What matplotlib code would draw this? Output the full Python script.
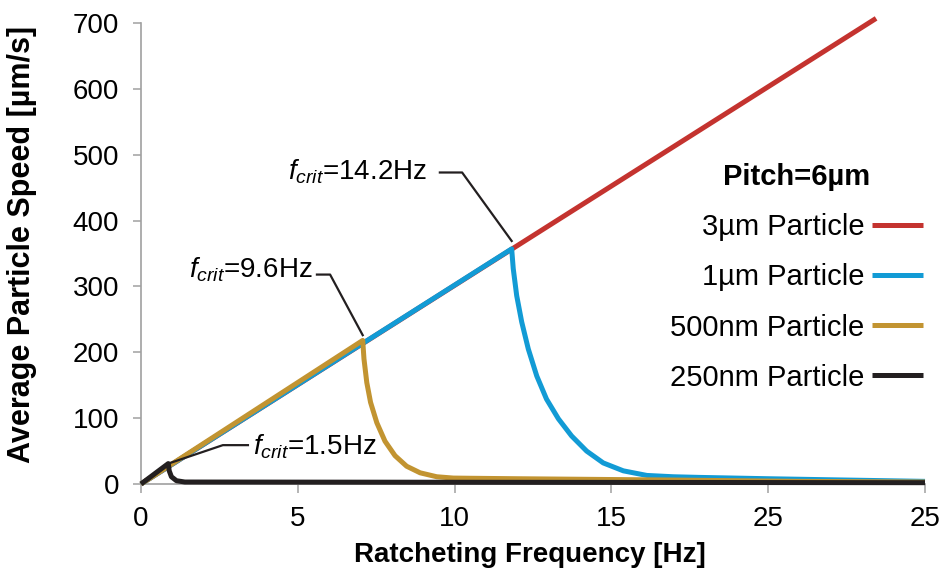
import matplotlib
matplotlib.use('Agg')
import matplotlib.pyplot as plt
from matplotlib.lines import Line2D

# Fuente tipo Arial
plt.rcParams['font.family'] = ['Liberation Sans', 'DejaVu Sans']
plt.rcParams['mathtext.fontset'] = 'custom'
plt.rcParams['mathtext.rm'] = 'Liberation Sans'
plt.rcParams['mathtext.it'] = 'Liberation Sans:italic'

# Datos (frecuencia [Hz], velocidad [um/s])
freq_3um = [0, 23.44]
speed_3um = [0, 707]

freq_1um = [0, 11.82, 11.87, 11.98, 12.14, 12.35, 12.62, 12.93, 13.31, 13.73,
            14.21, 14.74, 15.38, 16.13, 16.97, 17.83, 20, 22.5, 25]
speed_1um = [0, 357, 327, 286, 246, 205, 164, 129, 99, 73,
             50, 32, 20, 13, 11, 10, 8, 6, 4]

freq_500nm = [0, 7.07, 7.11, 7.20, 7.32, 7.52, 7.78, 8.10, 8.47, 8.90,
              9.43, 9.96, 10.49, 12, 17, 21, 25]
speed_500nm = [0, 218, 190, 154, 124, 93, 65, 43, 27, 17,
               11, 9, 8.7, 8, 6, 4, 3]

freq_250nm = [0, 0.87, 0.90, 0.97, 1.13, 1.4, 25]
speed_250nm = [0, 31, 20, 11, 5, 3, 2]

labels = ['3µm Particle', '1µm Particle', '500nm Particle', '250nm Particle']
colors = ['#C4332F', '#129BD5', '#C29431', '#231F20']

x_ticks = [0, 5, 10, 15, 20, 25]
x_tick_labels = ['0', '5', '10', '15', '25', '25']
y_ticks = [0, 100, 200, 300, 400, 500, 600, 700]

fcrit_labels = ['14.2Hz', '9.6Hz', '1.5Hz']

fig = plt.figure(figsize=(9.41, 5.77), dpi=100)
ax = fig.add_axes([141/941, 1 - 484/577, 784/941, 461/577])

series = [(freq_3um, speed_3um), (freq_1um, speed_1um),
          (freq_500nm, speed_500nm), (freq_250nm, speed_250nm)]
for i, (fx, sy) in enumerate(series):
    ax.plot(fx, sy, color=colors[i], lw=3.6, zorder=2 + i,
            solid_capstyle='butt', solid_joinstyle='round', clip_on=False)

# Anotaciones f_crit: texto + linea guia hasta el pico
peaks = [(freq_1um[1], speed_1um[1]), (freq_500nm[1], speed_500nm[1]),
         (freq_250nm[1], speed_250nm[1])]
text_pos = [(9.12, 463, 'right'), (5.49, 314, 'right'), (3.57, 45, 'left')]
elbows = [[(9.53, 473), (10.24, 473)], [(5.61, 318), (6.03, 318)],
          [(3.41, 59), (2.61, 59)]]
end_offset = [12, 8, 0]
for k in range(3):
    tx, ty, ha = text_pos[k]
    ax.text(tx, ty, r'$f_{crit}$=' + fcrit_labels[k], fontsize=20,
            ha=ha, va='baseline', zorder=10)
    px, py = peaks[k]
    gx = [elbows[k][0][0], elbows[k][1][0], px]
    gy = [elbows[k][0][1], elbows[k][1][1], py + end_offset[k]]
    ax.plot(gx, gy, color='#231F20', lw=1.6, zorder=9, clip_on=False)

ax.set_xlim(0, 25)
ax.set_ylim(0, 700)
ax.set_xticks(x_ticks)
ax.set_xticklabels(x_tick_labels)
ax.set_yticks(y_ticks)

for side in ['top', 'right']:
    ax.spines[side].set_visible(False)
for side in ['left', 'bottom']:
    ax.spines[side].set_color('#A0A0A0')
    ax.spines[side].set_linewidth(1.2)

ax.tick_params(axis='x', direction='out', length=6.5, width=1.1,
               color='#A0A0A0', labelsize=20, pad=9)
ax.tick_params(axis='y', direction='out', length=5.8, width=1.1,
               color='#A0A0A0', labelsize=20, pad=10)

ax.set_xlabel('Ratcheting Frequency [Hz]', fontsize=20, fontweight='bold',
              va='top')
ax.xaxis.set_label_coords(0.496, -0.126)
ax.set_ylabel('Average Particle Speed [µm/s]', fontsize=22, fontweight='bold')
ax.yaxis.set_label_coords(-0.133, 0.52)

# Leyenda con la linea a la derecha del texto
handles = [Line2D([0], [0], color=c, lw=3.6, solid_capstyle='butt')
           for c in colors]
ax.legend(handles, labels, title='Pitch=6µm', markerfirst=False,
          frameon=False, fontsize=21,
          title_fontproperties={'weight': 'bold', 'size': 21},
          loc='upper right', bbox_to_anchor=(923/941, 1 - 163/577),
          bbox_transform=fig.transFigure, borderpad=0, borderaxespad=0,
          handlelength=1.75, handletextpad=0.25, labelspacing=0.76)

fig.savefig('out.png', dpi=100)
